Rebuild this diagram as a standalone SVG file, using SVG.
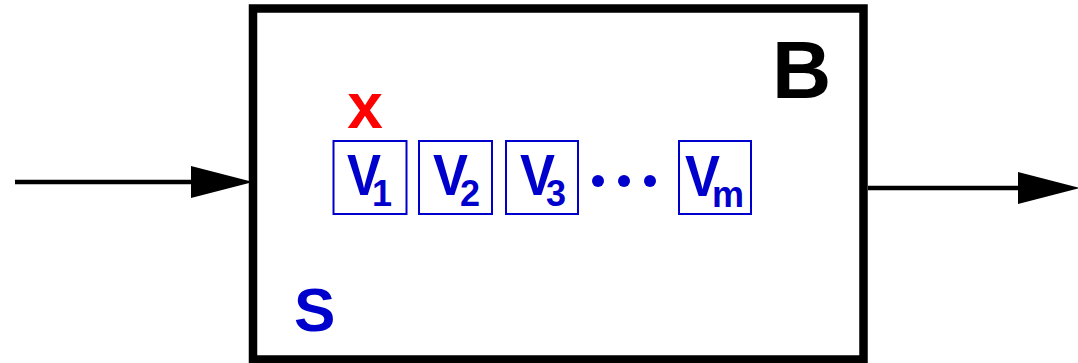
<svg xmlns="http://www.w3.org/2000/svg" width="1078" height="363" viewBox="0 0 1078 363">
  <style>
    .frame { fill: #ffffff; stroke: #000000; stroke-width: 8.5; }
    .cell { fill: #ffffff; stroke: #0000cc; stroke-width: 2; }
    .lbl { font-family: "Liberation Sans", Arial, sans-serif; font-weight: bold; fill: #0000cc; }
    .main { font-size: 57px; }
    .sub { font-size: 36px; }
    .wire { fill: none; stroke: #000000; stroke-width: 4.5; }
  </style>
  <defs>
    <marker id="arrow" markerUnits="userSpaceOnUse" markerWidth="62" markerHeight="34" viewBox="0 0 62 34" refX="4" refY="17" orient="auto">
      <path d="M0,1 L62,17 L0,33 Z" fill="#000000"/>
    </marker>
  </defs>
  <rect width="1078" height="363" fill="#ffffff"/>

  <g id="node-B">
    <rect class="frame" x="253" y="8.5" width="610.5" height="351"/>
    <text x="772" y="98" font-family="Liberation Sans, Arial, sans-serif" font-weight="bold" font-size="82" fill="#000000">B</text>
  </g>

  <g id="node-S">
    <text class="lbl" x="294" y="331" font-size="62">S</text>
  </g>

  <g id="node-x">
    <text x="365" y="128" text-anchor="middle" font-family="Liberation Sans, Arial, sans-serif" font-weight="bold" font-size="64" fill="#ff0000">x</text>
  </g>

  <g id="node-V1">
    <rect class="cell" x="333.5" y="141" width="73" height="73"/>
    <text class="lbl main" x="347" y="195" textLength="34" lengthAdjust="spacingAndGlyphs">V</text>
    <text class="lbl sub" x="372" y="206">1</text>
  </g>

  <g id="node-V2">
    <rect class="cell" x="419" y="141" width="73" height="73"/>
    <text class="lbl main" x="433" y="195" textLength="35" lengthAdjust="spacingAndGlyphs">V</text>
    <text class="lbl sub" x="460" y="206">2</text>
  </g>

  <g id="node-V3">
    <rect class="cell" x="506" y="141" width="72" height="73"/>
    <text class="lbl main" x="520" y="195" textLength="35" lengthAdjust="spacingAndGlyphs">V</text>
    <text class="lbl sub" x="546" y="206">3</text>
  </g>

  <g id="node-dots" fill="#0000cc">
    <circle cx="598" cy="181" r="6"/>
    <circle cx="624" cy="181" r="6"/>
    <circle cx="650" cy="181" r="6"/>
  </g>

  <g id="node-Vm">
    <rect class="cell" x="679" y="141" width="72" height="73"/>
    <text class="lbl main" x="685" y="196" textLength="35" lengthAdjust="spacingAndGlyphs">V</text>
    <text class="lbl sub" x="712" y="207">m</text>
  </g>

  <g id="connectors">
    <path class="wire" d="M15,182 H195" marker-end="url(#arrow)"/>
    <path class="wire" d="M868,188 H1022" marker-end="url(#arrow)"/>
  </g>
</svg>
